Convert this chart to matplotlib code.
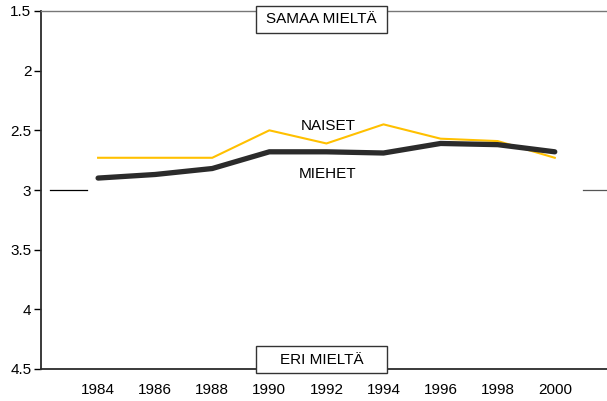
import matplotlib.pyplot as plt
from matplotlib.patches import Rectangle

plt.rcParams['font.family'] = ['Liberation Sans', 'DejaVu Sans']

years = [1984, 1986, 1988, 1990, 1992, 1994, 1996, 1998, 2000]
naiset = [2.73, 2.73, 2.73, 2.50, 2.61, 2.45, 2.57, 2.59, 2.73]
miehet = [2.90, 2.87, 2.82, 2.68, 2.68, 2.69, 2.61, 2.62, 2.68]
y_ticks = [1.5, 2, 2.5, 3, 3.5, 4, 4.5]
y_labels = ['1.5', '2', '2.5', '3', '3.5', '4', '4.5']

fig = plt.figure(figsize=(6.07, 4.01), dpi=100)
ax = fig.add_axes([41 / 607, 32 / 401, 566 / 607, 358 / 401])

ax.plot(years, naiset, color='#FFC000', linewidth=1.5)
ax.plot(years, miehet, color='#2b2b2b', linewidth=3.8, solid_capstyle='round')

# short reference marks at 3
ax.axhline(3, xmin=0.016, xmax=0.081, color='black', linewidth=0.9)
ax.axhline(3, xmin=0.958, xmax=1.0, color='#555555', linewidth=0.9)

ax.set_xlim(1982, 2001.83)
ax.set_ylim(4.5, 1.5)
ax.set_yticks(y_ticks)
ax.set_yticklabels(y_labels)
ax.set_xticks(years)
ax.set_xticklabels([str(y) for y in years])
ax.tick_params(axis='x', length=0, pad=10, labelsize=11)
ax.tick_params(axis='y', length=5, width=1, labelsize=11, pad=2)

ax.spines['right'].set_visible(False)
ax.spines['top'].set_color('#777777')
ax.spines['top'].set_linewidth(1)
ax.spines['left'].set_color('#2b2b2b')
ax.spines['left'].set_linewidth(1.3)
ax.spines['bottom'].set_color('#2b2b2b')
ax.spines['bottom'].set_linewidth(1.3)

ax.text(1992.05, 2.463, 'NAISET', ha='center', va='center', fontsize=11)
ax.text(1992.05, 2.865, 'MIEHET', ha='center', va='center', fontsize=11)

for y0, label in [(0.939, 'SAMAA MIELTÄ'), (-0.011, 'ERI MIELTÄ')]:
    ax.add_patch(Rectangle((0.38, y0), 0.231, 0.075, transform=ax.transAxes,
                           facecolor='white', edgecolor='#333333', linewidth=1,
                           clip_on=False, zorder=5))
    ax.text(0.4955, y0 + 0.0375, label, transform=ax.transAxes, ha='center',
            va='center', fontsize=11, zorder=6)

fig.savefig('out.png', dpi=100)
